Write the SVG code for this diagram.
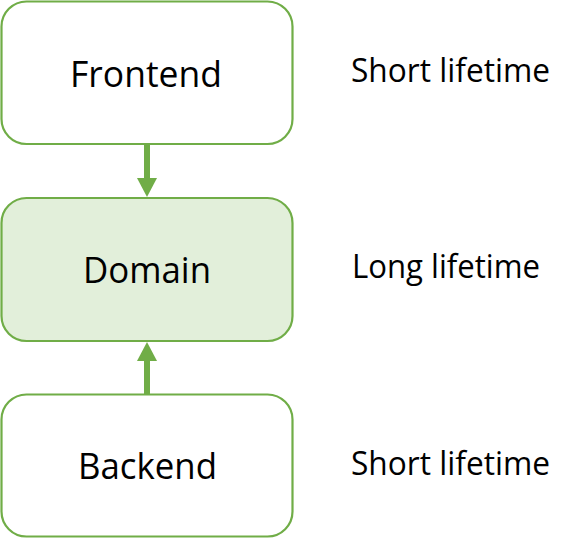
<svg xmlns="http://www.w3.org/2000/svg" width="575" height="539" viewBox="0 0 575 539">
<style>
.box{fill:#ffffff;stroke:#70AD47;stroke-width:2.2}
.dom{fill:#E2EFDA}
.lbl{font-family:"Open Sans","Liberation Sans",sans-serif;font-size:36px;fill:#000;text-anchor:middle}
.side{font-family:"Open Sans","Liberation Sans",sans-serif;font-size:32px;fill:#000}
.shaft{stroke:#70AD47;stroke-width:6;fill:none}
.head{fill:#70AD47}
</style>
<rect width="575" height="539" fill="#ffffff"/>
<g id="connectors">
<line class="shaft" x1="147" y1="144" x2="147" y2="179"/>
<polygon class="head" points="137,178 157,178 147,197"/>
<line class="shaft" x1="147" y1="394" x2="147" y2="360"/>
<polygon class="head" points="137,361 157,361 147,342"/>
</g>
<g id="frontend">
<rect class="box" x="1.5" y="1.5" width="291" height="142.5" rx="25" ry="25"/>
<text class="lbl" x="146" y="87" textLength="152" lengthAdjust="spacingAndGlyphs">Frontend</text>
</g>
<g id="domain">
<rect class="box dom" x="1.5" y="198" width="291" height="143" rx="25" ry="25"/>
<text class="lbl" x="147" y="283" textLength="128" lengthAdjust="spacingAndGlyphs">Domain</text>
</g>
<g id="backend">
<rect class="box" x="1.5" y="394.5" width="291" height="142" rx="25" ry="25"/>
<text class="lbl" x="147.5" y="479" textLength="139" lengthAdjust="spacingAndGlyphs">Backend</text>
</g>
<g id="labels">
<text class="side" x="351" y="82" textLength="199" lengthAdjust="spacingAndGlyphs">Short lifetime</text>
<text class="side" x="352" y="278" textLength="188" lengthAdjust="spacingAndGlyphs">Long lifetime</text>
<text class="side" x="351" y="475" textLength="199" lengthAdjust="spacingAndGlyphs">Short lifetime</text>
</g>
</svg>
